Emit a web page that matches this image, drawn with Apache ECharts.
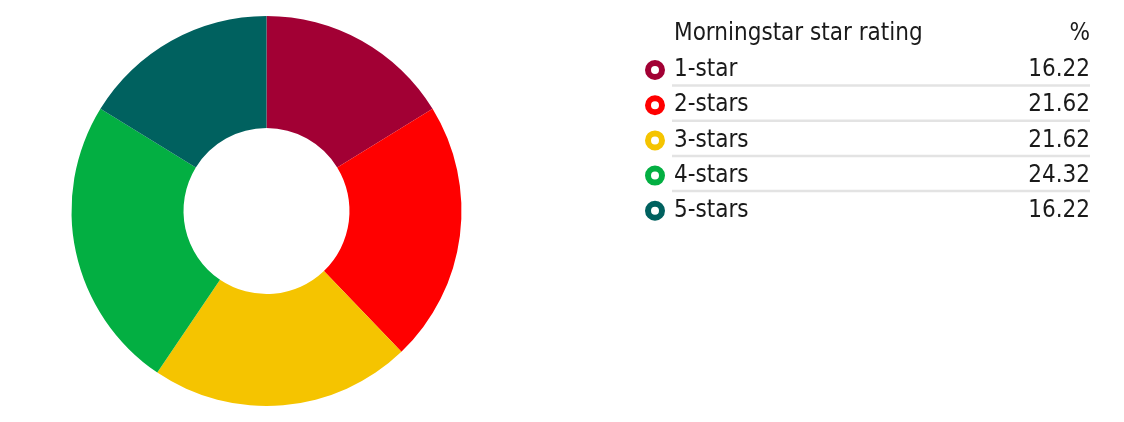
<!DOCTYPE html>
<html>
<head>
<meta charset="utf-8">
<script src="https://cdn.jsdelivr.net/npm/echarts@6/dist/echarts.min.js"></script>
<style>
html,body{margin:0;padding:0;background:#fff;}
#chart{width:1124px;height:422px;}
</style>
</head>
<body>
<div id="chart"></div>
<script>
const categories = ['1-star', '2-stars', '3-stars', '4-stars', '5-stars'];
const percentages = [16.22, 21.62, 21.62, 24.32, 16.22];
const colors = ['#A20034', '#FF0000', '#F5C400', '#03AF42', '#00615F'];
const headerLabel = 'Morningstar star rating';
const headerValue = '%';

const FONT = '"Liberation Sans Narrow", "DejaVu Sans Condensed", "Arial Narrow", sans-serif';
const FS = 24;
const ROW_H = 35.2;
const FIRST_ROW = 70;
const RING = 'path://M10,0A10,10,0,1,1,10,20A10,10,0,1,1,10,0ZM10,6A4,4,0,1,0,10,14A4,4,0,1,0,10,6Z';

const chart = echarts.init(document.getElementById('chart'), null, {renderer: 'canvas'});

const separators = categories.slice(0, -1).map((c, i) => ({
  type: 'line',
  shape: {x1: 672, y1: FIRST_ROW + ROW_H * i + 15.5, x2: 1090, y2: FIRST_ROW + ROW_H * i + 15.5},
  style: {stroke: '#e3e3e3', lineWidth: 2.5}
}));

chart.setOption({
  animation: false,
  color: colors,
  legend: {
    orient: 'vertical',
    left: 645,
    top: FIRST_ROW - ROW_H / 2,
    padding: 0,
    itemWidth: 20,
    itemHeight: 20,
    itemGap: 0,
    icon: RING,
    selectedMode: false,
    formatter: function (name) {
      const i = categories.indexOf(name);
      return '{n|' + name + '}{v|' + percentages[i].toFixed(2) + '}';
    },
    textStyle: {
      fontFamily: FONT,
      fontSize: FS,
      color: '#1a1a1a',
      lineHeight: ROW_H,
      rich: {
        n: {fontFamily: FONT, fontSize: FS, color: '#1a1a1a', width: 336, padding: [0, 0, 0, 4], lineHeight: ROW_H},
        v: {fontFamily: FONT, fontSize: FS, color: '#1a1a1a', width: 80, align: 'right', lineHeight: ROW_H}
      }
    },
    data: categories
  },
  graphic: [
    {
      type: 'text',
      left: 674,
      top: 22,
      style: {text: headerLabel, font: FS + 'px ' + FONT, fill: '#1a1a1a'}
    },
    {
      type: 'text',
      right: 1124 - 1090,
      top: 22,
      style: {text: headerValue, font: FS + 'px ' + FONT, fill: '#1a1a1a'}
    }
  ].concat(separators),
  series: [{
    type: 'pie',
    center: [266.5, 211],
    radius: [83, 195],
    startAngle: 90,
    clockwise: true,
    label: {show: false},
    labelLine: {show: false},
    emphasis: {disabled: true},
    itemStyle: {borderWidth: 0},
    data: categories.map((c, i) => ({name: c, value: percentages[i]}))
  }]
});
</script>
</body>
</html>
